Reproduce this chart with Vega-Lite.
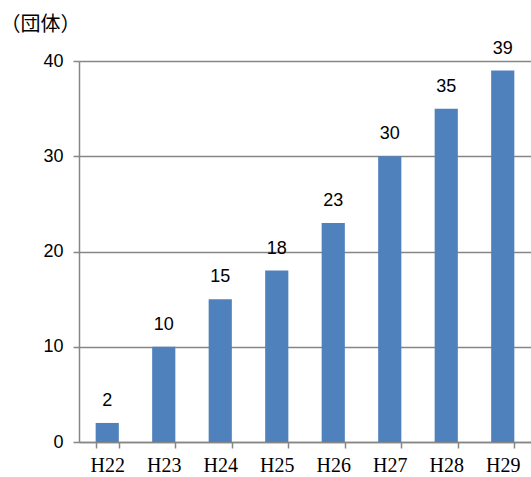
{
  "$schema": "https://vega.github.io/schema/vega-lite/v6.json",
  "width": 452,
  "height": 381,
  "autosize": {"type": "none"},
  "padding": {"left": 79, "top": 61, "right": 0, "bottom": 35},
  "background": "white",
  "config": {"view": {"stroke": null}},
  "data": {
    "values": [
      {"year": "H22", "count": 2},
      {"year": "H23", "count": 10},
      {"year": "H24", "count": 15},
      {"year": "H25", "count": 18},
      {"year": "H26", "count": 23},
      {"year": "H27", "count": 30},
      {"year": "H28", "count": 35},
      {"year": "H29", "count": 39}
    ]
  },
  "encoding": {
    "x": {
      "field": "year",
      "type": "nominal",
      "sort": null,
      "scale": {"paddingInner": 0.59, "paddingOuter": 0.295},
      "axis": {
        "title": null,
        "labelAngle": 0,
        "labelFont": "Liberation Serif",
        "labelFontSize": 20,
        "labelColor": "#000000",
        "labelPadding": 7,
        "domainColor": "#868686",
        "domainWidth": 1.5,
        "tickColor": "#868686",
        "tickSize": 6,
        "tickWidth": 1.5,
        "tickBand": "extent",
        "grid": false
      }
    },
    "y": {
      "field": "count",
      "type": "quantitative",
      "scale": {"domain": [0, 40], "nice": false},
      "axis": {
        "values": [0, 10, 20, 30, 40],
        "title": "（団体）",
        "titleFont": "Noto Sans CJK JP",
        "titleFontSize": 20,
        "titleFontWeight": "normal",
        "titleColor": "#000000",
        "titleAngle": 0,
        "titleAlign": "left",
        "titleBaseline": "middle",
        "titleX": -79,
        "titleY": -37,
        "labelFont": "Liberation Sans",
        "labelFontSize": 18,
        "labelColor": "#000000",
        "labelPadding": 10,
        "domainColor": "#868686",
        "domainWidth": 1.5,
        "tickColor": "#868686",
        "tickSize": 6,
        "tickWidth": 1.5,
        "gridColor": "#868686",
        "gridWidth": 1.5
      }
    }
  },
  "layer": [
    {"mark": {"type": "bar", "color": "#4F81BD"}},
    {
      "mark": {
        "type": "text",
        "dy": -17,
        "baseline": "alphabetic",
        "font": "Liberation Sans",
        "fontSize": 18,
        "color": "#000000"
      },
      "encoding": {"text": {"field": "count", "type": "quantitative"}}
    }
  ]
}
